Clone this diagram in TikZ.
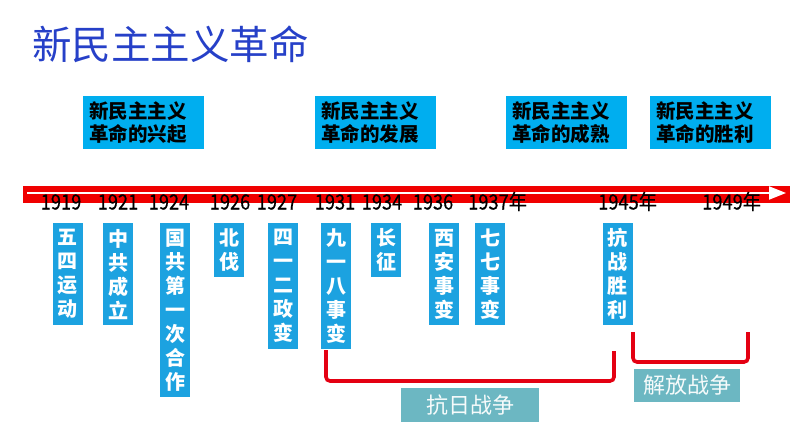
\documentclass[tikz,border=0pt]{standalone}
\usepackage{fontspec}
\setmainfont{Noto Sans CJK SC}
\newfontfamily\yearfont{Noto Sans CJK SC}[FakeStretch=0.87,FakeBold=0.3]
\usetikzlibrary{arrows.meta}
\definecolor{titleblue}{RGB}{38,64,200}
\definecolor{stagecyan}{RGB}{0,174,239}
\definecolor{eventblue}{RGB}{28,162,224}
\definecolor{warteal}{RGB}{108,183,194}
\definecolor{barred}{RGB}{240,0,0}
\definecolor{bracketred}{RGB}{228,0,18}
\tikzset{
  stage/.style={fill=stagecyan, text=black, font=\fontsize{19.5}{23}\selectfont\bfseries,
    text width=109pt, inner xsep=6pt, inner ysep=0pt, minimum height=53pt, align=left},
  event/.style={fill=eventblue, text=white, font=\fontsize{20}{24}\selectfont\bfseries,
    minimum width=30pt, inner sep=0pt, anchor=north, align=center},
  year/.style={font=\yearfont\fontsize{21}{21}\selectfont, text=black, inner sep=0pt, anchor=base},
  war/.style={fill=warteal, text=white!94!warteal, font=\fontsize{22}{22}\selectfont, inner sep=0pt},
  bracket/.style={draw=bracketred, line width=3.6pt, rounded corners=4pt},
}
\begin{document}
\begin{tikzpicture}[x=1pt,y=-1pt]
\useasboundingbox (0,0) rectangle (794,447);
% title
\node[anchor=west, text=titleblue, font=\fontsize{39.5}{40}\selectfont, inner sep=0pt] (title) at (32,44) {新民主主义革命};
% stage boxes
\node[stage] (s1) at (143.5,122.5) {新民主主义\\革命的兴起};
\node[stage] (s2) at (375.5,122.5) {新民主主义\\革命的发展};
\node[stage] (s3) at (566.5,122.5) {新民主主义\\革命的成熟};
\node[stage] (s4) at (710.5,122.5) {新民主主义\\革命的胜利};
% timeline bar
\node[fill=barred, minimum width=767pt, minimum height=17pt, inner sep=0pt, anchor=west] (bar) at (23,194.5) {};
\coordinate (tlstart) at (27,193);
\coordinate (tlend) at (786,193);
\draw[white, line width=2pt, -{Triangle[width=13pt,length=17pt]}] (tlstart) -- (tlend);
% years
\node[year] (y1919) at (61,209.5) {1919};
\node[year] (y1921) at (118,209.5) {1921};
\node[year] (y1924) at (169,209.5) {1924};
\node[year] (y1926) at (230,209.5) {1926};
\node[year] (y1927) at (277,209.5) {1927};
\node[year] (y1931) at (335,209.5) {1931};
\node[year] (y1934) at (382,209.5) {1934};
\node[year] (y1936) at (433,209.5) {1936};
\node[year, anchor=base west] (y1937) at (468,209.5) {1937年};
\node[year, anchor=base west] (y1945) at (598,209.5) {1945年};
\node[year, anchor=base west] (y1949) at (702,209.5) {1949年};
% events
\node[event, minimum height=102pt] (wusi) at (67.7,223) {五\\四\\运\\动};
\node[event, minimum height=102pt] (zhonggong) at (118,223) {中\\共\\成\\立};
\node[event, minimum height=174pt] (guogong) at (175,223) {国\\共\\第\\一\\次\\合\\作};
\node[event, minimum height=54pt] (beifa) at (229,223) {北\\伐};
\node[event, minimum height=126pt] (siyier) at (283,223) {四\\一\\二\\政\\变};
\node[event, minimum height=126pt] (jiuyiba) at (336,223) {九\\一\\八\\事\\变};
\node[event, minimum height=54pt] (changzheng) at (386,223) {长\\征};
\node[event, minimum height=102pt] (xian) at (444,223) {西\\安\\事\\变};
\node[event, minimum height=102pt] (qiqi) at (490,223) {七\\七\\事\\变};
\node[event, minimum height=102pt] (kangzhan) at (617.5,223) {抗\\战\\胜\\利};
% brackets
\coordinate (b1a) at (326,350);
\coordinate (b1b) at (614,351);
\coordinate (b2a) at (633,332);
\coordinate (b2b) at (748,332);
\draw[bracket] (b1a) -- (b1a |- 0,381) -- (b1b |- 0,381) -- (b1b);
\draw[bracket] (b2a) -- (b2a |- 0,362) -- (b2b |- 0,362) -- (b2b);
% war labels
\node[war, minimum width=138pt, minimum height=34pt] (kangri) at (470,405) {抗日战争};
\node[war, minimum width=106pt, minimum height=33pt] (jiefang) at (687,385.5) {解放战争};
\end{tikzpicture}
\end{document}
